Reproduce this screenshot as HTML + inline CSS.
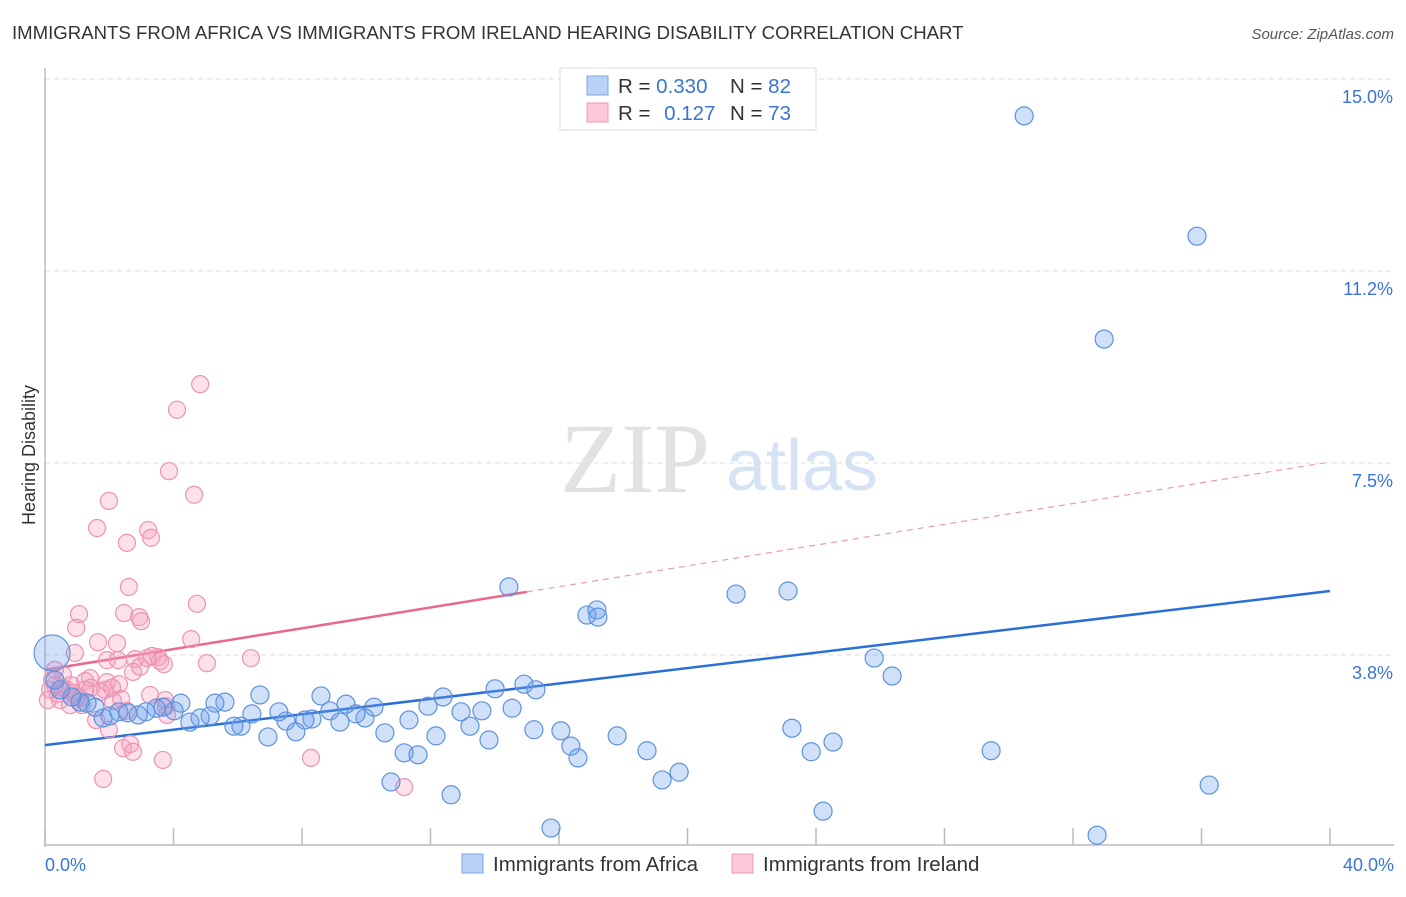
<!DOCTYPE html>
<html><head><meta charset="utf-8">
<style>
body{margin:0;background:#fff;font-family:"Liberation Sans",sans-serif;}
svg text{font-family:"Liberation Sans",sans-serif;}
</style></head>
<body>
<svg id="chart" width="1406" height="892" viewBox="0 0 1406 892">
<text x="12" y="39" font-size="18.6" fill="#333">IMMIGRANTS FROM AFRICA VS IMMIGRANTS FROM IRELAND HEARING DISABILITY CORRELATION CHART</text>
<text x="1394" y="39" font-size="15" fill="#555" font-style="italic" text-anchor="end">Source: ZipAtlas.com</text>
<text x="35" y="455" font-size="18" fill="#333" text-anchor="middle" transform="rotate(-90 35 455)">Hearing Disability</text>
<g>
<text x="635" y="492" font-size="100" fill="#e2e2e2" style="font-family:'Liberation Serif',serif" text-anchor="middle">ZIP</text>
<text x="802" y="490" font-size="72" fill="#d6e3f5" text-anchor="middle">atlas</text>
</g>
<g id="grid"></g>
<g id="axes"></g>
<g id="trend"></g>
<g id="points"></g>
<g>
<rect x="560" y="68" width="256" height="62" fill="#fff" stroke="#ddd"/>
<rect x="587" y="76" width="21" height="19" fill="#b8d3f5" stroke="#7aa6e4"/>
<rect x="587" y="103" width="21" height="19" fill="#fac8d8" stroke="#ee9ab6"/>
<text x="618" y="93" font-size="20.5" fill="#333">R = <tspan fill="#3a74d4">0.330</tspan></text>
<text x="730" y="93" font-size="20.5" fill="#333">N = <tspan fill="#3a74d4">82</tspan></text>
<text x="618" y="120" font-size="20.5" fill="#333">R = <tspan fill="#3a74d4" dx="8">0.127</tspan></text>
<text x="730" y="120" font-size="20.5" fill="#333">N = <tspan fill="#3a74d4">73</tspan></text>
</g>
<g>
<rect x="462" y="854" width="21" height="19" fill="#b8d3f5" stroke="#7aa6e4"/>
<text x="493" y="871" font-size="20.5" fill="#333">Immigrants from Africa</text>
<rect x="732" y="854" width="21" height="19" fill="#fac8d8" stroke="#ee9ab6"/>
<text x="763" y="871" font-size="20.5" fill="#333">Immigrants from Ireland</text>
</g>
</svg>
<script>
const yTicks=[3.75,7.5,11.25,15];
const yTickLabels=["3.8%","7.5%","11.2%","15.0%"];
const xTicks=[0,4,8,12,16,20,24,28,32,36,40];
const xLabels=["0.0%","40.0%"];
const africaX=[30.48,35.86,32.97,14.44,16.87,17.18,17.21,21.51,23.13,25.81,26.37,23.25,23.85,24.53,29.45,36.24,24.22,32.75,15.75,12.64,10.77,11.18,11.61,12.17,10.58,11.33,11.92,12.39,12.95,13.23,13.60,13.82,14.01,14.54,14.91,15.28,15.22,16.06,16.37,16.59,17.81,18.74,19.21,19.74,8.59,9.37,10.24,9.96,9.68,8.87,9.18,8.31,8.09,7.50,7.81,6.94,6.69,6.44,7.28,6.10,5.88,5.60,5.29,5.14,4.83,4.51,4.23,4.02,3.67,3.46,3.14,2.90,2.58,2.30,2.02,1.81,1.56,1.31,1.09,0.84,0.47,0.31];
const africaY=[14.28,11.93,9.92,5.08,4.53,4.63,4.49,4.94,5.00,3.69,3.34,2.32,1.86,2.05,1.88,1.21,0.70,0.23,0.37,1.02,1.27,1.84,1.80,2.17,2.23,2.48,2.75,2.93,2.64,2.36,2.66,2.09,3.09,2.71,3.18,3.07,2.29,2.27,1.97,1.74,2.17,1.88,1.31,1.46,2.95,2.79,2.73,2.52,2.60,2.66,2.44,2.50,2.48,2.46,2.25,2.15,2.97,2.60,2.64,2.36,2.36,2.83,2.81,2.56,2.52,2.44,2.81,2.66,2.73,2.71,2.64,2.58,2.62,2.64,2.56,2.52,2.73,2.81,2.83,2.93,3.07,3.26];
const africaBigX=[0.22], africaBigY=[3.79];
const irelandX=[4.83,4.11,3.86,4.64,1.99,1.62,3.21,3.30,2.55,2.61,1.06,2.46,2.93,2.99,4.73,0.97,1.65,2.24,4.55,0.93,1.93,2.27,2.80,3.33,3.52,3.58,3.18,3.70,5.04,6.41,0.56,1.40,1.93,1.25,0.68,0.81,0.31,0.16,0.40,0.53,0.87,1.09,1.43,1.87,2.12,2.37,2.74,2.96,1.00,1.25,3.74,3.77,1.59,1.99,2.43,2.65,2.74,3.67,8.28,1.81,11.18,2.30,1.74,0.31,0.09,0.22,0.47,0.78,1.15,2.09,3.27,3.80,2.55];
const irelandY=[9.04,8.54,7.34,6.88,6.76,6.23,6.19,6.04,5.94,5.08,4.55,4.57,4.49,4.41,4.75,4.28,4.00,3.98,4.06,3.79,3.65,3.65,3.67,3.73,3.71,3.63,3.69,3.57,3.59,3.69,3.36,3.30,3.22,3.24,3.07,3.16,3.16,3.07,2.99,3.11,3.01,2.91,3.11,3.07,2.85,2.89,3.42,3.52,2.93,3.07,2.87,2.75,2.48,2.29,1.93,2.01,1.86,1.70,1.74,1.33,1.17,3.18,3.03,3.46,2.87,3.26,2.87,2.77,2.77,3.11,2.97,2.58,2.66];
const africaTrend=[1.99,5.00];
const irelandTrend=[3.46,7.52];
const irelandSolidEnd=15.0;

const NS="http://www.w3.org/2000/svg";
const X0=45,X1=1330,Y0=847;
function sx(v){return X0+(v/40)*(X1-X0);}
function sy(v){return Y0-v*51.2;}
function mk(tag,attrs,parent){const e=document.createElementNS(NS,tag);for(const k in attrs)e.setAttribute(k,attrs[k]);parent.appendChild(e);return e;}
const grid=document.getElementById('grid'),axes=document.getElementById('axes'),trend=document.getElementById('trend'),pts=document.getElementById('points');
yTicks.forEach((t,i)=>{
 const l=mk('line',{x1:X0,x2:1394,y1:sy(t),y2:sy(t),stroke:'#ddd','stroke-dasharray':'5,4'},grid);
 
 
 const tx=mk('text',{x:1393,y:sy(t)+24,'font-size':18,fill:'#3a74d4','text-anchor':'end'},axes);
 tx.textContent=yTickLabels[i];
 
 
});
const ya=mk('line',{x1:X0,x2:X0,y1:68,y2:Y0,stroke:'#bbb','stroke-width':1.5},axes);


const xa=mk('line',{x1:X0,x2:1394,y1:845,y2:845,stroke:'#bbb','stroke-width':1.5},axes);


xTicks.forEach(t=>{
 const l=mk('line',{x1:sx(t),x2:sx(t),y1:828,y2:845,stroke:'#bbb','stroke-width':1.5},axes);
 
 
});
[[0,'start',45],[40,'end',1394]].forEach((d,i)=>{
 const tx=mk('text',{x:d[2],y:871,'font-size':18,fill:'#3a74d4','text-anchor':d[1]},axes);
 tx.textContent=xLabels[i];
 
 
});
function dot(x,y,r,c,name){
 const fill=c==='b'?'rgba(110,160,235,0.32)':'rgba(245,160,190,0.32)';
 const st=c==='b'?'#5e92dc':'#ec94b2';
 const e=mk('circle',{cx:sx(x),cy:sy(y),r:r,fill:fill,stroke:st,'stroke-width':1.2},pts);
 
 
}
irelandX.forEach((x,i)=>dot(x,irelandY[i],8.5,'p','ireland-point'));
africaX.forEach((x,i)=>dot(x,africaY[i],9,'b','africa-point'));
africaBigX.forEach((x,i)=>dot(x,africaBigY[i],18,'b','africa-point-large'));
function ty(tr,x){return tr[0]+(tr[1]-tr[0])*x/40;}
const bl=mk('line',{x1:sx(0),y1:sy(ty(africaTrend,0)),x2:sx(40),y2:sy(ty(africaTrend,40)),stroke:'#2a6fd6','stroke-width':2.5},trend);


const pl=mk('line',{x1:sx(0),y1:sy(ty(irelandTrend,0)),x2:sx(irelandSolidEnd),y2:sy(ty(irelandTrend,irelandSolidEnd)),stroke:'#e8688f','stroke-width':2.5},trend);


const pd=mk('line',{x1:sx(irelandSolidEnd),y1:sy(ty(irelandTrend,irelandSolidEnd)),x2:sx(40),y2:sy(ty(irelandTrend,40)),stroke:'#eb9ab4','stroke-width':1.2,'stroke-dasharray':'6,5'},trend);


</script>
</body></html>
